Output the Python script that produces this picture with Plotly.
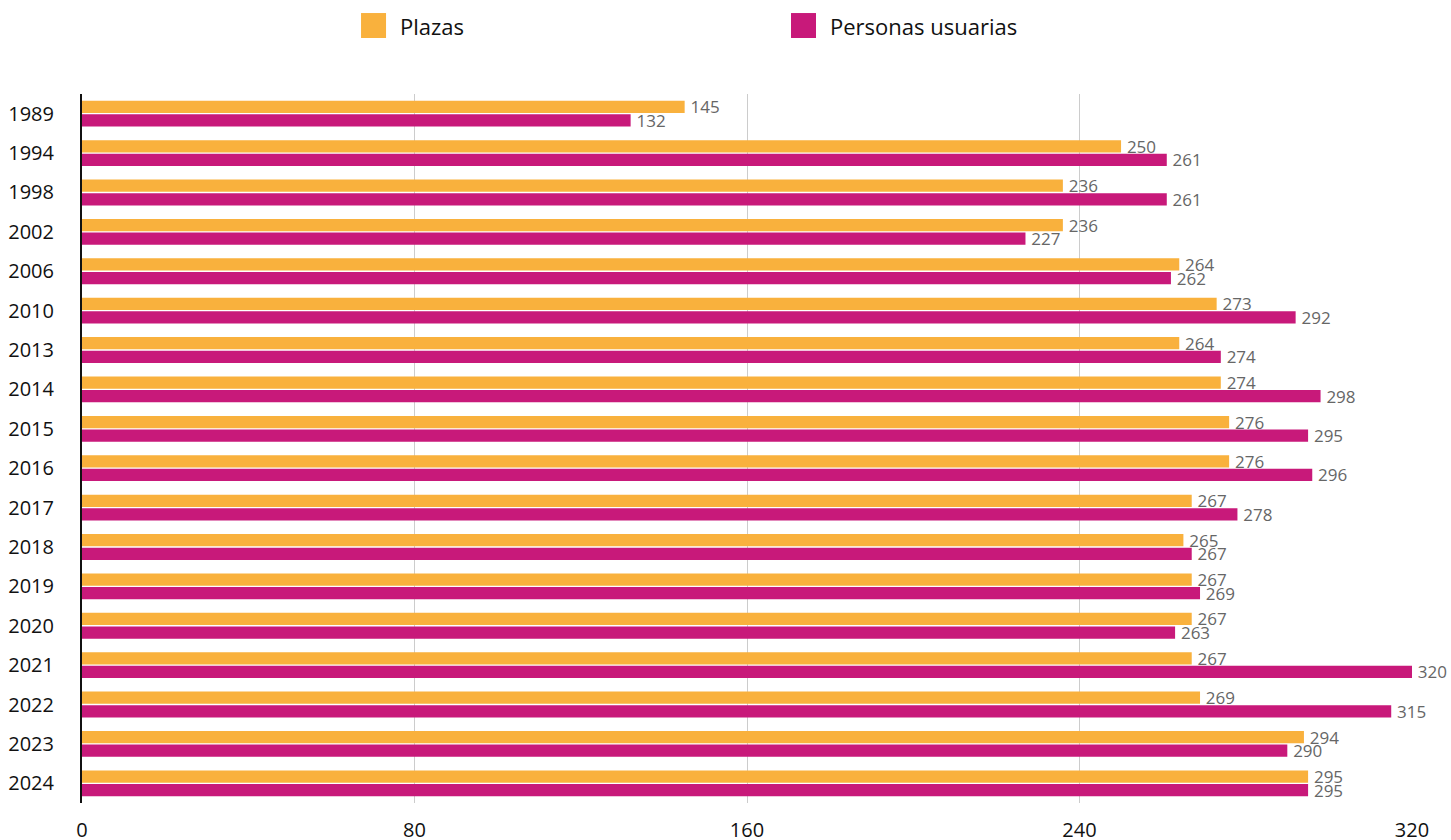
import plotly.graph_objects as go

years = ['1989', '1994', '1998', '2002', '2006', '2010', '2013', '2014', '2015',
         '2016', '2017', '2018', '2019', '2020', '2021', '2022', '2023', '2024']
plazas = [145, 250, 236, 236, 264, 273, 264, 274, 276, 276, 267, 265, 267, 267, 267, 269, 294, 295]
personas = [132, 261, 261, 227, 262, 292, 274, 298, 295, 296, 278, 267, 269, 263, 320, 315, 290, 295]

series_names = ['Plazas', 'Personas usuarias']
colors = ['#F9B13D', '#C8197A']

fig = go.Figure()
for name, values, color in zip(series_names, [plazas, personas], colors):
    fig.add_trace(go.Bar(
        y=years,
        x=values,
        name=name,
        orientation='h',
        marker=dict(color=color, line=dict(width=0)),
        text=['\u2009' + str(v) for v in values],
        textposition='outside',
        constraintext='none',
        textfont=dict(family='Open Sans', size=17, color='#666666'),
        cliponaxis=False,
        hoverinfo='x+name',
    ))

# legend drawn as big squares + labels (plotly caps legend symbol size)
legend_x = [0.2098, 0.5331]
for (x0, name, color) in zip(legend_x, series_names, colors):
    fig.add_shape(type='rect', xref='paper', yref='paper',
                  x0=x0, x1=x0 + 0.0188, y0=1.079, y1=1.1142,
                  fillcolor=color, line=dict(width=0))
    fig.add_annotation(x=x0 + 0.0276, y=1.0959, xref='paper', yref='paper',
                       text=name, showarrow=False, xanchor='left', yanchor='middle',
                       font=dict(family='Open Sans', size=22, color='#111111'))

fig.update_layout(
    width=1451,
    height=840,
    margin=dict(l=82, r=39, t=94, b=37, autoexpand=False),
    barmode='group',
    bargap=0.31,
    bargroupgap=0.1,
    showlegend=False,
    plot_bgcolor='white',
    paper_bgcolor='white',
    font=dict(family='Open Sans', size=20, color='#111111'),
)
fig.update_xaxes(
    range=[0, 320],
    tickvals=[0, 80, 160, 240, 320],
    showgrid=True,
    gridcolor='#CCCCCC',
    gridwidth=1,
    zeroline=False,
    showline=False,
    ticks='',
    automargin=False,
    ticklabelstandoff=13,
    tickfont=dict(family='Open Sans', size=20, color='#111111'),
)
fig.update_yaxes(
    autorange='reversed',
    showgrid=False,
    showline=True,
    linecolor='#111111',
    linewidth=2,
    ticks='',
    automargin=False,
    ticklabelstandoff=22,
    tickfont=dict(family='Open Sans', size=20, color='#111111'),
)

# drop the browser's default 8px body margin so the figure fills the window
fig.write_html(
    'out.html',
    config={'displayModeBar': False},
    post_script="document.body.style.margin='0';document.body.style.overflow='hidden';",
)
